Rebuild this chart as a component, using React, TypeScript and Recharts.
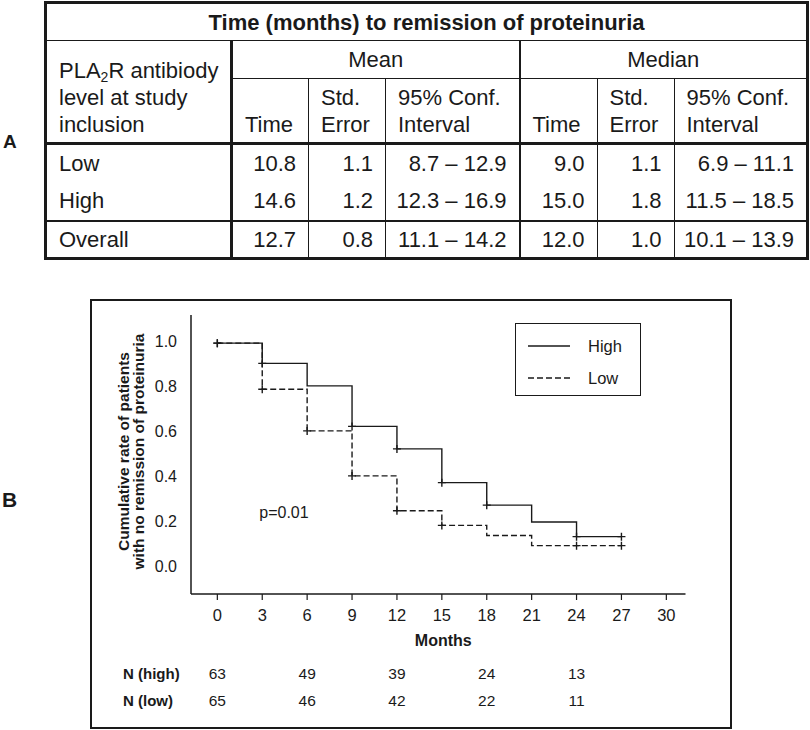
import React from 'react';
import { ComposedChart, Line, Scatter, XAxis, YAxis, Legend, ReferenceDot } from 'recharts';

// survival curves (Kaplan-Meier style, step after each point)
const months = [0, 3, 6, 9, 12, 15, 18, 21, 24, 27];
const highRate = [0.99, 0.9, 0.8, 0.62, 0.52, 0.37, 0.27, 0.195, 0.13, 0.13];
const lowRate = [0.99, 0.785, 0.6, 0.4, 0.245, 0.18, 0.135, 0.09, 0.09, 0.09];
const highCensored = [true, true, false, true, true, true, true, false, true, true];
const lowCensored = [true, true, true, true, true, true, false, false, true, true];

const xTicks = [0, 3, 6, 9, 12, 15, 18, 21, 24, 27, 30];
const yTicks = [0, 0.2, 0.4, 0.6, 0.8, 1.0];

// numbers at risk
const riskMonths = [0, 6, 12, 18, 24];
const riskHigh = [63, 49, 39, 24, 13];
const riskLow = [65, 46, 42, 22, 11];

// table A
const groupHeads = ['Mean', 'Median'];
const subHeads = [['Time'], ['Std.', 'Error'], ['95% Conf.', 'Interval']];
const rowLabels = ['Low', 'High', 'Overall'];
const meanTime = ['10.8', '14.6', '12.7'];
const meanSE = ['1.1', '1.2', '0.8'];
const meanCI = ['8.7 – 12.9', '12.3 – 16.9', '11.1 – 14.2'];
const medianTime = ['9.0', '15.0', '12.0'];
const medianSE = ['1.1', '1.8', '1.0'];
const medianCI = ['6.9 – 11.1', '11.5 – 18.5', '10.1 – 13.9'];

const FONT = '"Liberation Sans", Arial, sans-serif';
const INK = '#1a1a1a';

const highData = months.map((m, i) => ({ m, v: highRate[i] }));
const lowData = months.map((m, i) => ({ m, v: lowRate[i] }));
const highMarks = highData.filter((_, i) => highCensored[i]);
const lowMarks = lowData.filter((_, i) => lowCensored[i]);

const plusShape = (props: any) => {
    const { cx, cy } = props;
    return (
        <path
            d={`M${cx - 4},${cy}H${cx + 4}M${cx},${cy - 4}V${cy + 4}`}
            stroke={INK}
            strokeWidth={1.4}
            fill="none"
        />
    );
};

const renderYLabel = (props: any) => {
    const { viewBox } = props;
    const cy = viewBox.y + viewBox.height / 2 - 3;
    const style = { fontFamily: FONT, fontSize: 15.5, fontWeight: 'bold' as const, fill: INK };
    return (
        <g>
            <text transform={`translate(${viewBox.x + 38},${cy}) rotate(-90)`} textAnchor="middle" {...style}>
                Cumulative rate of patients
            </text>
            <text transform={`translate(${viewBox.x + 53},${cy}) rotate(-90)`} textAnchor="middle" {...style}>
                with no remission of proteinuria
            </text>
        </g>
    );
};

const renderXLabel = (props: any) => {
    const { viewBox } = props;
    return (
        <text
            x={viewBox.x + viewBox.width / 2 + 5}
            y={viewBox.y + 51.5}
            textAnchor="middle"
            fontFamily={FONT}
            fontSize={16}
            fontWeight="bold"
            fill={INK}
        >
            Months
        </text>
    );
};

const riskLabel = (text: string) => (props: any) => {
    const { viewBox } = props;
    return (
        <text x={32} y={viewBox.y + 30} fontFamily={FONT} fontSize={15} fontWeight="bold" fill={INK}>
            {text}
        </text>
    );
};

const renderLegend = () => (
    <div
        style={{
            width: 126,
            height: 73,
            boxSizing: 'border-box',
            border: `1.5px solid ${INK}`,
            position: 'relative',
            fontFamily: FONT,
            fontSize: 16.5,
            color: INK,
            background: '#fff',
        }}
    >
        {[
            { name: 'High', dash: undefined as string | undefined, y: 22 },
            { name: 'Low', dash: '6 3', y: 53.5 },
        ].map((it) => (
            <div key={it.name}>
                <svg width={45} height={4} style={{ position: 'absolute', left: 12, top: it.y - 2 }}>
                    <line x1={0} y1={2} x2={42} y2={2} stroke={INK} strokeWidth={1.4} strokeDasharray={it.dash} />
                </svg>
                <span style={{ position: 'absolute', left: 72, top: it.y - 10, lineHeight: '20px' }}>{it.name}</span>
            </div>
        ))}
    </div>
);

function ResultTable() {
    const thick = `3px solid ${INK}`;
    const mid = `2px solid ${INK}`;
    const thin = `1.5px solid ${INK}`;
    const cols = [meanTime, meanSE, meanCI, medianTime, medianSE, medianCI];
    const sepAfter = (c: number) => (c === 2 ? mid : c === 5 ? 'none' : thin);
    const widths = [186, 77, 77, 134, 77.5, 77, 133.5];
    return (
        <table
            style={{
                position: 'absolute',
                left: 44,
                top: 1,
                width: 763,
                borderCollapse: 'collapse',
                tableLayout: 'fixed',
                border: thick,
                fontFamily: FONT,
                fontSize: 22,
                lineHeight: '27px',
                color: INK,
            }}
        >
            <colgroup>
                {widths.map((w, i) => (
                    <col key={i} style={{ width: w }} />
                ))}
            </colgroup>
            <tbody>
                <tr style={{ height: 38 }}>
                    <td colSpan={7} style={{ padding: 0, textAlign: 'center', fontWeight: 'bold', fontSize: 22, borderBottom: thin }}>
                        Time (months) to remission of proteinuria
                    </td>
                </tr>
                <tr style={{ height: 38 }}>
                    <td rowSpan={2} style={{ padding: '0 0 4px 12px', verticalAlign: 'bottom', borderRight: thick, borderBottom: thick }}>
                        PLA<sub style={{ fontSize: 14, lineHeight: 0, verticalAlign: '-4px' }}>2</sub>R antibiody
                        <br />
                        level at study
                        <br />
                        inclusion
                    </td>
                    {groupHeads.map((g, i) => (
                        <td
                            key={g}
                            colSpan={3}
                            style={{ padding: 0, textAlign: 'center', borderBottom: thin, borderRight: i === 0 ? mid : 'none' }}
                        >
                            {g}
                        </td>
                    ))}
                </tr>
                <tr style={{ height: 65 }}>
                    {[0, 1, 2, 3, 4, 5].map((c) => (
                        <td
                            key={c}
                            style={{ padding: '0 0 4px 12px', verticalAlign: 'bottom', borderBottom: thick, borderRight: sepAfter(c) }}
                        >
                            {subHeads[c % 3].map((t, k) => (
                                <div key={k}>{t}</div>
                            ))}
                        </td>
                    ))}
                </tr>
                {rowLabels.map((lab, r) => (
                    <tr key={lab} style={{ height: r === 1 ? 39 : 38 }}>
                        <td style={{ padding: '0 0 0 12px', borderRight: thick, borderTop: r === 2 ? mid : 'none' }}>{lab}</td>
                        {cols.map((col, c) => (
                            <td
                                key={c}
                                style={{
                                    padding: '0 12px 0 0',
                                    textAlign: 'right',
                                    whiteSpace: 'nowrap',
                                    borderRight: sepAfter(c),
                                    borderTop: r === 2 ? mid : 'none',
                                }}
                            >
                                {col[r]}
                            </td>
                        ))}
                    </tr>
                ))}
            </tbody>
        </table>
    );
}

export default function App() {
    const tickStyle = { fontFamily: FONT, fontSize: 16.5, fill: INK };
    const riskTick = { fontFamily: FONT, fontSize: 15.5, fill: INK };
    return (
        <div style={{ position: 'absolute', left: 0, top: 0, width: 810, height: 730, background: '#fff', fontFamily: FONT }}>
            <div style={{ position: 'absolute', left: 3, top: 131, fontSize: 19, fontWeight: 'bold', color: INK }}>A</div>
            <ResultTable />

            <div style={{ position: 'absolute', left: 2, top: 488, fontSize: 21, fontWeight: 'bold', color: INK }}>B</div>
            <div
                style={{
                    position: 'absolute',
                    left: 90,
                    top: 299,
                    width: 642,
                    height: 430,
                    boxSizing: 'border-box',
                    border: `2px solid ${INK}`,
                }}
            />
            <div style={{ position: 'absolute', left: 91, top: 300 }}>
                <ComposedChart width={640} height={427} margin={{ top: 15, right: 45.5, bottom: 24, left: 0 }}>
                    <XAxis
                        xAxisId="main"
                        dataKey="m"
                        type="number"
                        domain={[-1.76, 31.28]}
                        ticks={xTicks}
                        allowDataOverflow
                        height={55}
                        tickSize={6}
                        tickMargin={9}
                        fontSize={16.5}
                        fontFamily={FONT}
                        tick={tickStyle}
                        axisLine={{ stroke: INK, strokeWidth: 1.5 }}
                        tickLine={{ stroke: INK, strokeWidth: 1.2 }}
                        label={renderXLabel}
                    />
                    <XAxis
                        xAxisId="riskHigh"
                        dataKey="m"
                        type="number"
                        domain={[-1.76, 31.28]}
                        ticks={riskMonths}
                        allowDataOverflow
                        height={27}
                        tickSize={0}
                        tickMargin={19}
                        axisLine={false}
                        tickLine={false}
                        fontSize={15.5}
                        fontFamily={FONT}
                        tick={riskTick}
                        tickFormatter={(v: number) => String(riskHigh[riskMonths.indexOf(v)] ?? '')}
                        label={riskLabel('N (high)')}
                    />
                    <XAxis
                        xAxisId="riskLow"
                        dataKey="m"
                        type="number"
                        domain={[-1.76, 31.28]}
                        ticks={riskMonths}
                        allowDataOverflow
                        height={27}
                        tickSize={0}
                        tickMargin={18.5}
                        axisLine={false}
                        tickLine={false}
                        fontSize={15.5}
                        fontFamily={FONT}
                        tick={riskTick}
                        tickFormatter={(v: number) => String(riskLow[riskMonths.indexOf(v)] ?? '')}
                        label={riskLabel('N (low)')}
                    />
                    <YAxis
                        type="number"
                        domain={[-0.125, 1.115]}
                        ticks={yTicks}
                        allowDataOverflow
                        width={100}
                        tickSize={0}
                        tickMargin={14}
                        tickLine={false}
                        axisLine={{ stroke: INK, strokeWidth: 1.5 }}
                        fontSize={16}
                        fontFamily={FONT}
                        tick={{ fontFamily: FONT, fontSize: 16, fill: INK }}
                        tickFormatter={(v: number) => v.toFixed(1)}
                        label={renderYLabel}
                    />
                    <Legend
                        layout="horizontal"
                        verticalAlign="middle"
                        align="center"
                        wrapperStyle={{ left: 424, top: 23, width: 126, height: 73 }}
                        content={renderLegend}
                    />
                    <Line
                        xAxisId="main"
                        data={lowData}
                        dataKey="v"
                        name="Low"
                        type="stepAfter"
                        stroke={INK}
                        strokeWidth={1.4}
                        strokeDasharray="6 3"
                        dot={false}
                        activeDot={false}
                        isAnimationActive={false}
                    />
                    <Line
                        xAxisId="main"
                        data={highData}
                        dataKey="v"
                        name="High"
                        type="stepAfter"
                        stroke={INK}
                        strokeWidth={1.4}
                        dot={false}
                        activeDot={false}
                        isAnimationActive={false}
                    />
                    <Scatter xAxisId="main" data={highMarks} dataKey="v" shape={plusShape} isAnimationActive={false} />
                    <Scatter xAxisId="main" data={lowMarks} dataKey="v" shape={plusShape} isAnimationActive={false} />
                    <ReferenceDot
                        xAxisId="main"
                        x={4.45}
                        y={0.24}
                        r={0}
                        fill="none"
                        stroke="none"
                        label={{ value: 'p=0.01', position: 'center', fontFamily: FONT, fontSize: 16, fill: INK }}
                    />
                </ComposedChart>
            </div>
        </div>
    );
}
